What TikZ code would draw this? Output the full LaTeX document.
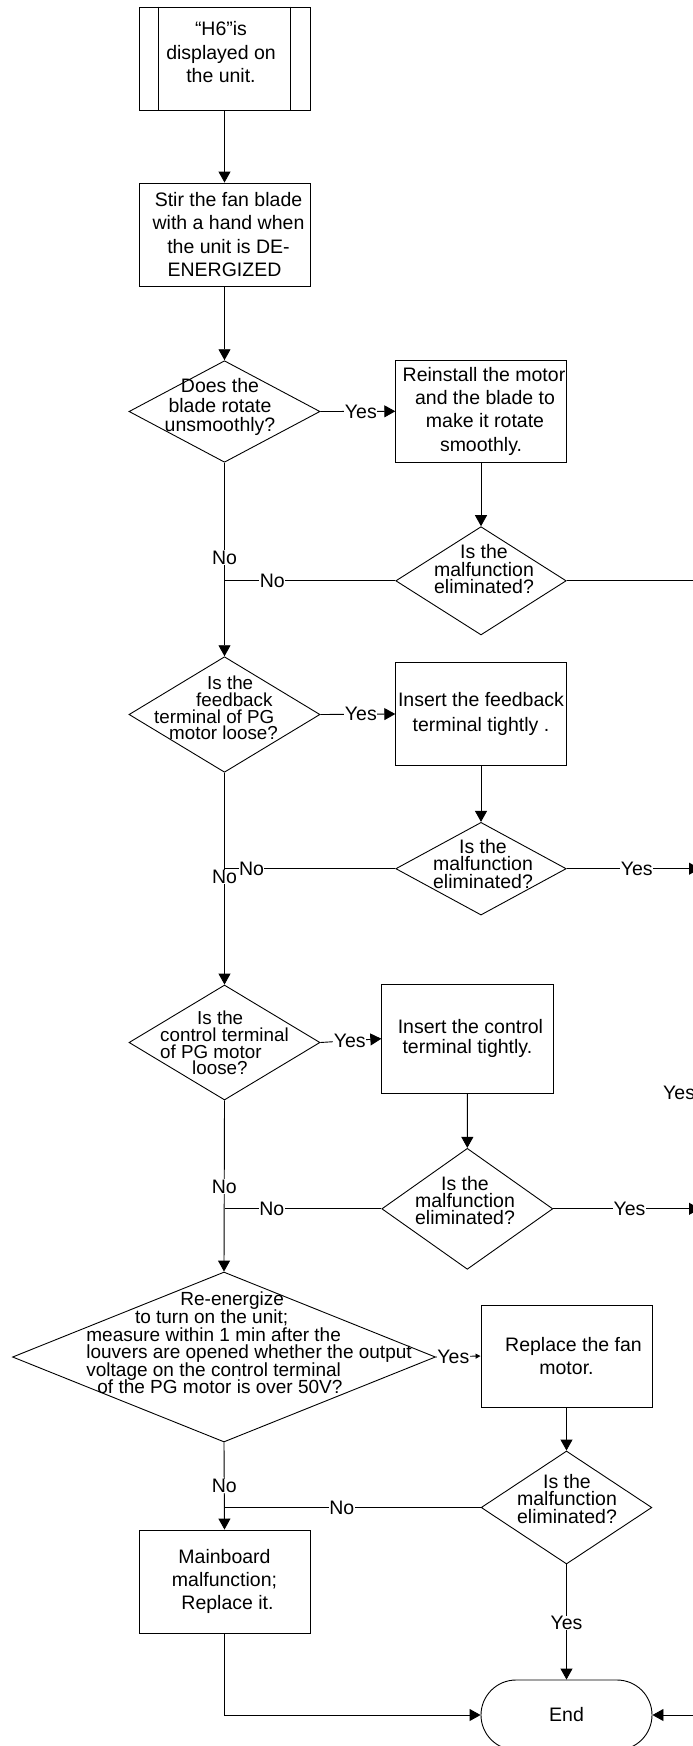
\documentclass[tikz,border=0pt]{standalone}
\usepackage{fontspec}
\setmainfont{Liberation Sans}
\usetikzlibrary{shapes.geometric,arrows.meta}
\begin{document}
\setlength{\lineskiplimit}{-40pt}%
\begin{tikzpicture}[x=1pt,y=-1pt,
  box/.style={draw, rectangle, inner sep=0pt, line width=0.9pt, align=center, font=\fontsize{19.5}{23.3}\selectfont},
  dia/.style={draw, diamond, inner sep=0pt, line width=0.9pt},
  dtxt/.style={font={\fontsize{19.5}{#1}\selectfont}, align=center, inner sep=0pt},
  dtxt/.default=17.5,
  ntxt/.style={font={\fontsize{18.8}{16.6}\selectfont}, align=left, inner sep=0pt, anchor=west},
  lbl/.style={fill=white, font=\fontsize{19.5}{23}\selectfont, inner sep=0.5pt},
  arr/.style={line width=0.9pt, -{Triangle[length=11pt,width=12pt]}},
  ln/.style={line width=0.9pt}]
\useasboundingbox (0,0) rectangle (693,1746);
\fill[white] (0,0) rectangle (693,1746);
\clip (0,0) rectangle (693,1746);

% left column
\node[box, minimum width=171pt, minimum height=103pt] (start) at (224.5,58.5) {};
\draw[ln] ([xshift=20pt]start.north west) -- ([xshift=20pt]start.south west);
\draw[ln] ([xshift=-20.5pt]start.north east) -- ([xshift=-20.5pt]start.south east);
\node[dtxt=23.5] (startt) at (221,52.5) {“H6”is\\displayed on\\the unit.};

\node[box, minimum width=171pt, minimum height=103pt] (stir) at (224.5,234.5) {\hspace*{8pt}Stir the fan blade\\\hspace*{8pt}with a hand when\\\hspace*{8pt}the unit is DE-\\ENERGIZED};

\node[dia, minimum width=191pt, minimum height=101.6pt] (d1) at (224.5,411.5) {};
\node[dtxt=19.5] (d1t) at (220,407) {Does the\\blade rotate\\unsmoothly?};

\node[dia, minimum width=191pt, minimum height=115.6pt] (d3) at (224.5,714.5) {};
\node[ntxt] (d3t) at (154,708) {\hspace*{53pt}Is the\\\hspace*{42pt}feedback\\terminal of PG\\\hspace*{15pt}motor loose?};

\node[dia, minimum width=191pt, minimum height=115pt] (d5) at (224.5,1042.5) {};
\node[ntxt] (d5t) at (160,1043) {\hspace*{37pt}Is the\\control terminal\\of PG motor\\\hspace*{32pt}loose?};

\node[dia, minimum width=423pt, minimum height=170pt] (d7) at (224,1357) {};
\node[font={\fontsize{19}{17.6}\selectfont}, align=left, inner sep=0pt, anchor=west] (d7t) at (86.2,1343) {\hspace*{94pt}Re-energize\\\hspace*{48.6pt}to turn on the unit;\\measure within 1 min after the\\louvers are opened whether the output\\voltage on the control terminal\\\hspace*{11pt}of the PG motor is over 50V?};

\node[box, minimum width=171pt, minimum height=103pt] (mb) at (224.5,1581.5) {Mainboard\\malfunction;\\\hspace*{6pt}Replace it.};

% right column
\node[box, minimum width=170.5pt, minimum height=102.7pt] (reinst) at (481,411.3) {\hspace*{6pt}Reinstall the motor\\\hspace*{8pt}and the blade to\\\hspace*{8pt}make it rotate\\smoothly.};

\node[dia, minimum width=170.5pt, minimum height=108.3pt] (d2) at (481,580.8) {};
\node[dtxt] (d2t) at (484,569.5) {Is the\\malfunction\\eliminated?};

\node[box, minimum width=170.5pt, minimum height=102.6pt, font=\fontsize{19.5}{24.3}\selectfont] (fb) at (481,714) {Insert the feedback\\terminal tightly .};

\node[dia, minimum width=170.5pt, minimum height=92.7pt] (d4) at (481,868.7) {};
\node[dtxt] (d4t) at (483,864) {Is the\\malfunction\\eliminated?};

\node[box, minimum width=171.2pt, minimum height=109.3pt, font=\fontsize{19.5}{20}\selectfont] (ctl) at (467.4,1038.7) {\hspace*{6pt}Insert the control\\terminal tightly.};

\node[dia, minimum width=171pt, minimum height=121pt] (d6) at (467.3,1208.8) {};
\node[dtxt=17] (d6t) at (465,1201) {Is the\\malfunction\\eliminated?};

\node[box, minimum width=171pt, minimum height=102pt] (rep) at (566.5,1356) {\hspace*{14pt}Replace the fan\\motor.};

\node[dia, minimum width=170.7pt, minimum height=113pt] (d8) at (566.5,1507.5) {};
\node[dtxt] (d8t) at (567,1499) {Is the\\malfunction\\eliminated?};

\node[draw, rectangle, rounded corners=35pt, minimum width=171pt, minimum height=70pt, inner sep=0pt, line width=0.9pt, font=\fontsize{19.5}{23}\selectfont] (end) at (566.5,1715) {End};

% stray label at right edge
\node[font=\fontsize{19.5}{23}\selectfont, inner sep=0pt, anchor=west] (yesr) at (663,1093.3) {Yes};

% junctions and off-page ends
\coordinate (j1) at (224.5,580.8);
\coordinate (j2) at (224.5,868.7);
\coordinate (j3) at (224.5,1208.8);
\coordinate (j4) at (224.5,1507.5);
\coordinate (r1) at (700,580.8);
\coordinate (r2) at (700,868.7);
\coordinate (r3) at (700,1208.8);
\coordinate (r4) at (700,1715);

% connectors
\draw[arr] (start) -- (stir);
\draw[arr] (stir) -- (d1);
\draw[arr] (d1.east) -- node[lbl,pos=0.54]{Yes} (reinst.west);
\draw[arr] (reinst) -- (d2);
\draw[ln] (d2.west) -- node[lbl,pos=0.72]{No} (j1);
\draw[ln] (d2.east) -- (r1);
\draw[arr] (d1.south) -- node[lbl,pos=0.49]{No} (d3.north);

\draw[arr] (d3.east) -- node[lbl,pos=0.54]{Yes} (fb.west);
\draw[arr] (fb) -- (d4);
\draw[ln] (d4.west) -- node[lbl,pos=0.842]{No} (j2);
\draw[arr] (d4.east) -- node[lbl,pos=0.525]{Yes} (r2);
\draw[arr] (d3.south) -- node[lbl,pos=0.492]{No} (d5.north);

\draw[arr] (d5.east) -- node[lbl,pos=0.48]{Yes} (ctl.west);
\draw[arr] (ctl) -- (d6);
\draw[ln] (d6.west) -- node[lbl,pos=0.698]{No} (j3);
\draw[arr] (d6.east) -- node[lbl,pos=0.52]{Yes} (r3);
\draw[arr] (d5.south) -- node[lbl,pos=0.504]{No} (d7.north);

\draw[ln, -{Triangle[length=5pt,width=5pt]}] (d7.east) -- node[lbl,pos=0.39]{Yes} (rep.west);
\draw[arr] (rep) -- (d8);
\draw[ln] (d8.west) -- node[lbl,pos=0.542]{No} (j4);
\draw[arr] (d7.south) -- node[lbl,pos=0.5]{No} (mb.north);
\draw[arr] (d8.south) -- node[lbl,pos=0.509]{Yes} (end.north);
\draw[arr] (mb.south) |- (end.west);
\draw[arr] (r4) -- (end.east);
\end{tikzpicture}
\end{document}
